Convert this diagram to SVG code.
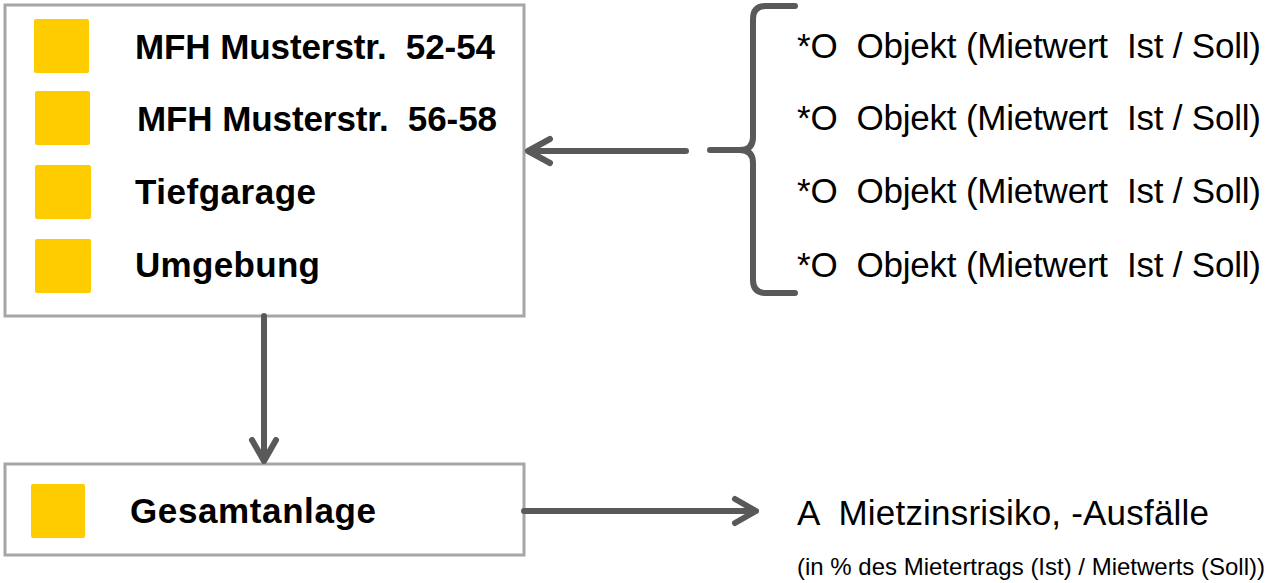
<svg xmlns="http://www.w3.org/2000/svg" width="1270" height="583" viewBox="0 0 1270 583">
<style>
.box{fill:#ffffff;stroke:#a6a6a6;stroke-width:3}
.sq{fill:#ffcc00}
text{white-space:pre}
.lbl{font-family:"Liberation Sans",Arial,sans-serif;font-weight:bold;font-size:35px;fill:#000}
.txt{font-family:"Liberation Sans",Arial,sans-serif;font-size:35px;fill:#000}
.small{font-family:"Liberation Sans",Arial,sans-serif;font-size:24px;fill:#000}
.con{fill:none;stroke:#595959;stroke-width:6;stroke-linecap:round;stroke-linejoin:round}
</style>
<rect width="1270" height="583" fill="#ffffff"/>
<g id="objekte">
<rect class="box" x="5" y="5" width="519" height="311"/>
<rect class="sq" x="34" y="19" width="55" height="54" rx="2"/>
<rect class="sq" x="35" y="91" width="55" height="54" rx="2"/>
<rect class="sq" x="35" y="165" width="56" height="54" rx="2"/>
<rect class="sq" x="35" y="239" width="56" height="54" rx="2"/>
<text class="lbl" x="135" y="59" xml:space="preserve" textLength="360" lengthAdjust="spacing">MFH Musterstr.  52-54</text>
<text class="lbl" x="137" y="131" xml:space="preserve" textLength="360" lengthAdjust="spacing">MFH Musterstr.  56-58</text>
<text class="lbl" x="135" y="204" textLength="181" lengthAdjust="spacing">Tiefgarage</text>
<text class="lbl" x="135" y="277" textLength="185" lengthAdjust="spacing">Umgebung</text>
</g>
<g id="gesamtanlage">
<rect class="box" x="5" y="464" width="519" height="91"/>
<rect class="sq" x="31" y="484" width="54" height="54" rx="2"/>
<text class="lbl" x="130" y="523" textLength="246" lengthAdjust="spacing">Gesamtanlage</text>
</g>
<g id="objektliste">
<text class="txt" x="797" y="58" xml:space="preserve" textLength="464" lengthAdjust="spacing">*O  Objekt (Mietwert  Ist / Soll)</text>
<text class="txt" x="797" y="130" xml:space="preserve" textLength="464" lengthAdjust="spacing">*O  Objekt (Mietwert  Ist / Soll)</text>
<text class="txt" x="797" y="203" xml:space="preserve" textLength="464" lengthAdjust="spacing">*O  Objekt (Mietwert  Ist / Soll)</text>
<text class="txt" x="797" y="277" xml:space="preserve" textLength="464" lengthAdjust="spacing">*O  Objekt (Mietwert  Ist / Soll)</text>
</g>
<g id="ergebnis">
<text class="txt" x="797" y="525" xml:space="preserve" textLength="412" lengthAdjust="spacing">A  Mietzinsrisiko, -Ausfälle</text>
<text class="small" x="797" y="575" textLength="468" lengthAdjust="spacing">(in % des Mietertrags (Ist) / Mietwerts (Soll))</text>
</g>
<g id="connectors">
<path class="con" d="M795,6 H766 Q753,6 753,19 V137 Q753,150 740,150 H710 M740,150 Q753,150 753,163 V280 Q753,293 766,293 H795" stroke-width="5"/>
<path class="con" d="M686,151 H528 M550,139 L528,151 L550,163" stroke-linecap="butt"/>
<path class="con" d="M264,316 V461 M252,440 L264,461 L276,440" stroke-width="5" stroke-linecap="butt"/>
<path class="con" d="M524,511 H756 M735,499 L756,511 L735,523" stroke-linecap="butt"/>
</g>
</svg>
